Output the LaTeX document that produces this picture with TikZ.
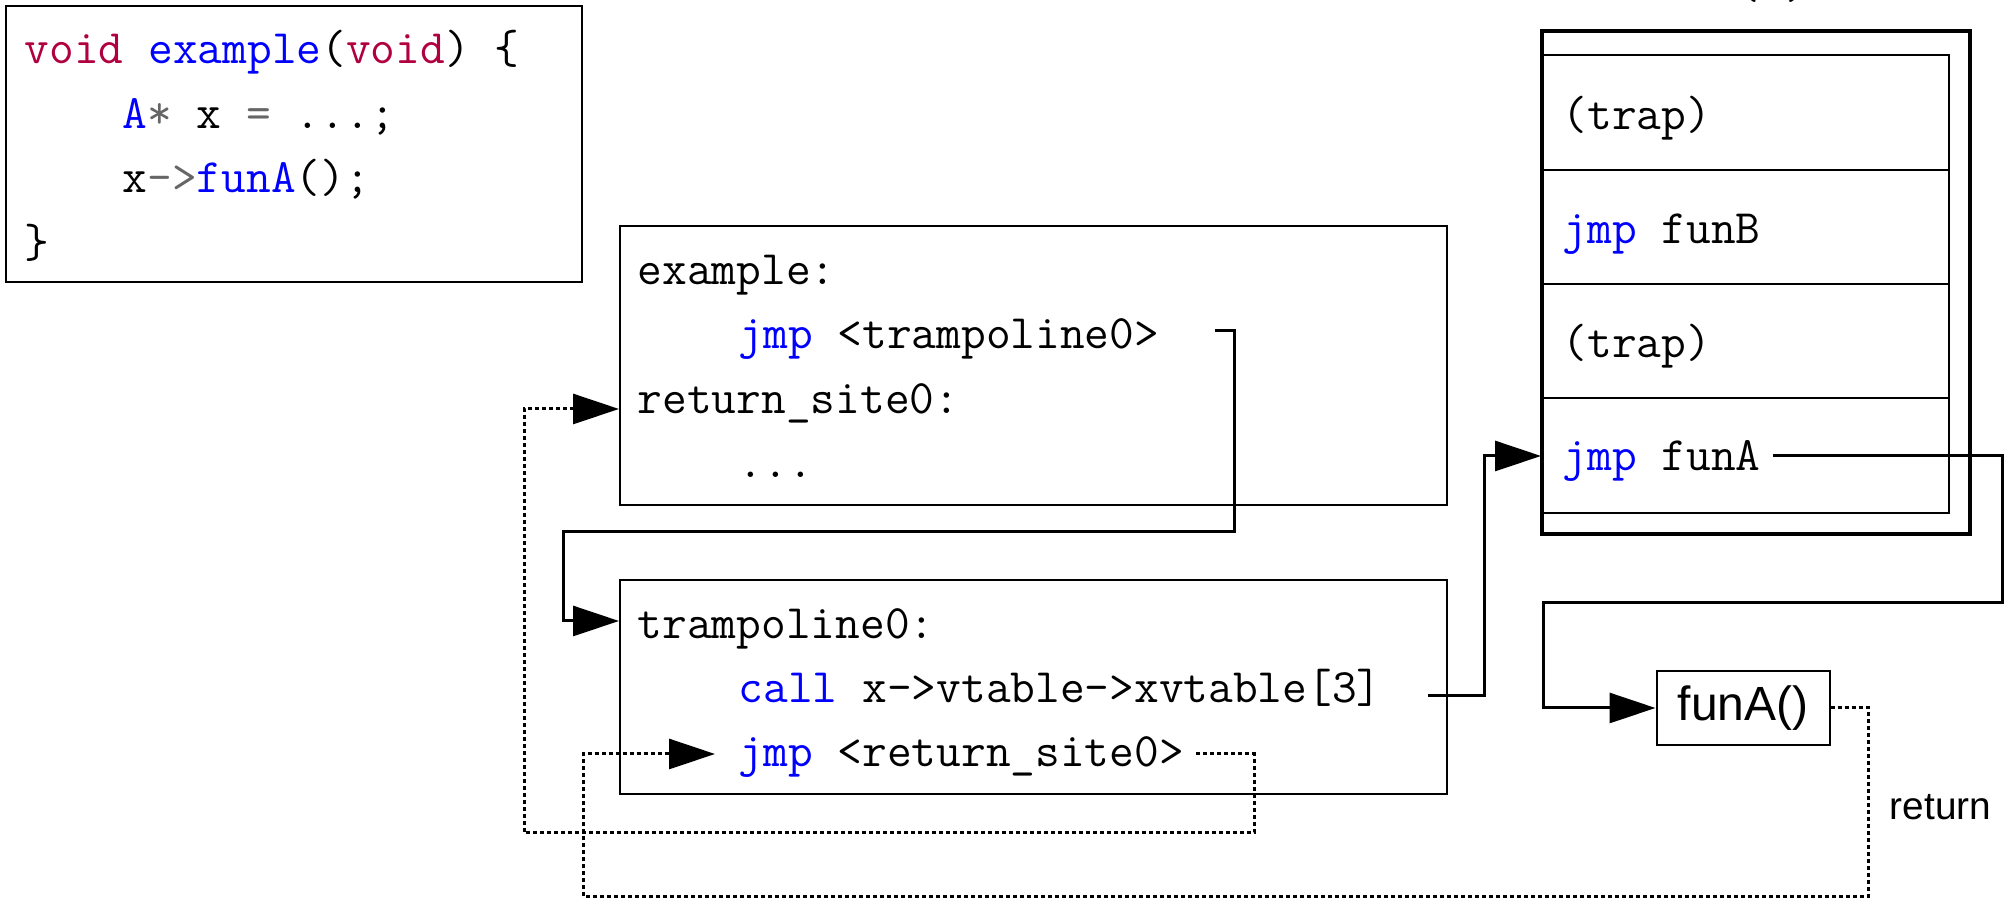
\documentclass[tikz,border=0pt]{standalone}
\usepackage{fontspec}
\newfontfamily\labelsans{Liberation Sans}
\usetikzlibrary{arrows.meta,fit}
\definecolor{kwred}{RGB}{176,0,64}
\definecolor{kwblue}{RGB}{0,0,255}
\definecolor{opgray}{RGB}{102,102,102}
\newcommand{\kw}[1]{\textcolor{kwred}{#1}}
\newcommand{\nm}[1]{\textcolor{kwblue}{#1}}
\newcommand{\op}[1]{\textcolor{opgray}{#1}}

\begin{document}
\begin{tikzpicture}[x=0.25pt,y=-0.25pt,
  box/.style={draw, line width=0.5pt, inner sep=0pt},
  code/.style={anchor=base west, inner sep=0pt, font=\ttfamily\fontsize{12}{14}\selectfont},
  wire/.style={line width=0.75pt},
  hop/.style={wire, -{Triangle[length=11.5pt,width=7.5pt]}},
  ret/.style={hop, dash pattern=on 1pt off 0.75pt},
]
\useasboundingbox (0,0) rectangle (2013,905);

% source function
\node[box, fit={(6,6) (582,282)}] (srcbox) {};
\node[code] (src1) at (24,64)    {\kw{void} \nm{example}(\kw{void}) \{};
\node[code] (src2) at (122,128.5) {\nm{A}\op{*} x \op{=} ...;};
\node[code] (src3) at (122,193)  {x\op{->}\nm{funA}();};
\node[code] (src4) at (24,257.5) {\}};

% compiled example
\node[box, fit={(620,226) (1447,505)}] (exbox) {};
\node[code] (ex1) at (637,285)   {example:};
\node[code] (ex2) at (738,349)   {\nm{jmp} <trampoline0>};
\node[code] (ex3) at (637,413.5) {return\_site0:};
\node[code] (ex4) at (738,478)   {...};

% trampoline
\node[box, fit={(620,580) (1447,794)}] (trbox) {};
\node[code] (tr1) at (637,639) {trampoline0:};
\node[code] (tr2) at (738,703) {\nm{call} x->vtable->xvtable[3]};
\node[code] (tr3) at (738,767) {\nm{jmp} <return\_site0>};

% xvtable
\node[code] (tbltitle) at (1562,-1.5) {xvtable(A)};
\node[draw, line width=1pt, inner sep=0pt, fit={(1542,31) (1970,534)}] (tbl) {};
\node[box, fit={(1542,55) (1949,170)}]  (row1) {};
\node[box, fit={(1542,170) (1949,284)}] (row2) {};
\node[box, fit={(1542,284) (1949,398)}] (row3) {};
\node[box, fit={(1542,398) (1949,513)}] (row4) {};
\node[code] (cell1) at (1562,130) {(trap)};
\node[code] (cell2) at (1562,244) {\nm{jmp} funB};
\node[code] (cell3) at (1562,358) {(trap)};
\node[code] (cell4) at (1562,471) {\nm{jmp} funA};

% callee
\node[draw, line width=0.5pt, inner sep=0pt, minimum width=43.25pt, minimum height=18.5pt,
      font=\labelsans\fontsize{12}{14}\selectfont] (funA) at (1743,708) {funA()};
\node[anchor=base west, inner sep=0pt, font=\labelsans\fontsize{9.7}{12}\selectfont]
      (retlabel) at (1889,820) {return};

% route points
\coordinate (s1) at (1215,331);
\coordinate (k1) at (1234,532);
\coordinate (k2) at (563,621);
\coordinate (s2) at (1428,696);
\coordinate (k3) at (1484,456);
\coordinate (s3) at (1773,456);
\coordinate (k4) at (2002,603);
\coordinate (k5) at (1543,708);
\coordinate (k6) at (1868,897);
\coordinate (k7) at (583,754);
\coordinate (e4) at (715,754);
\coordinate (s5) at (1196,754);
\coordinate (k8) at (1254,833);
\coordinate (k9) at (524,409);

% control transfers
\draw[hop] (s1) -| (k1) -| (k2) -- (trbox.west |- k2);
\draw[hop] (s2) -| (k3) -- (row4.west |- k3);
\draw[hop] (s3) -| (k4) -| (k5) -- (funA.west);
\draw[ret] (funA.east) -| (k6) -| (k7) -- (e4);
\draw[ret] (s5) -| (k8) -| (k9) -- (exbox.west |- k9);
\end{tikzpicture}
\end{document}
